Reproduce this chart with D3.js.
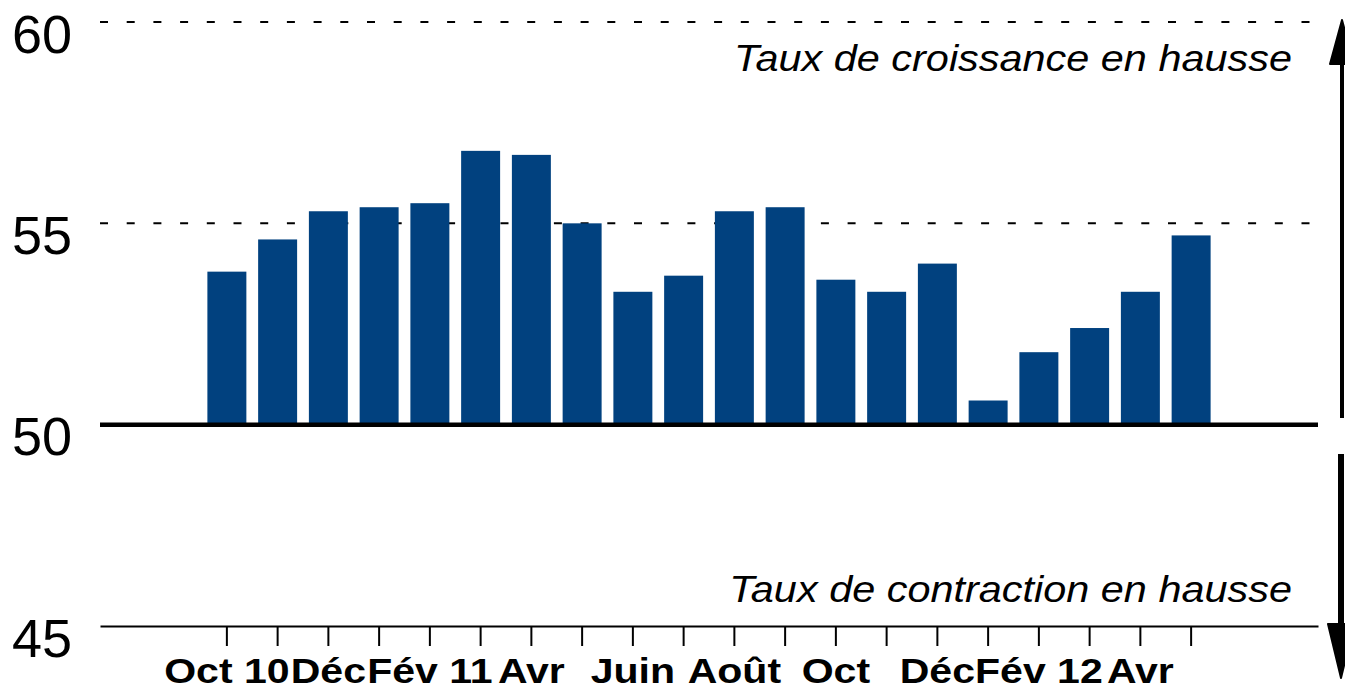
<!DOCTYPE html>
<html>
<head>
<meta charset="utf-8">
<script src="https://cdn.jsdelivr.net/npm/d3@7/dist/d3.min.js"></script>
<style>
  html, body { margin: 0; padding: 0; background: #fff; }
  svg { display: block; }
</style>
</head>
<body>
<svg id="chart" width="1345" height="690"></svg>
<script>
// ---- data ----
const months = ["2010-10","2010-11","2010-12","2011-01","2011-02","2011-03","2011-04","2011-05","2011-06","2011-07",
                "2011-08","2011-09","2011-10","2011-11","2011-12","2012-01","2012-02","2012-03","2012-04","2012-05"];
const monthLabels = ["Oct 10","","Déc","","Fév 11","","Avr","","Juin","",
                     "Août","","Oct","","Déc","","Fév 12","","Avr",""];
const values = [53.8, 54.6, 55.3, 55.4, 55.5, 56.8, 56.7, 55.0, 53.3, 53.7,
                55.3, 55.4, 53.6, 53.3, 54.0, 50.6, 51.8, 52.4, 53.3, 54.7];
const yTicks = [45, 50, 55, 60];
const dashedLevels = [55, 60];
const baseLevel = 50;
const upperNote = "Taux de croissance en hausse";
const lowerNote = "Taux de contraction en hausse";

// ---- layout ----
const svg = d3.select("#chart");
const left = 100, right = 1318;
const y = d3.scaleLinear().domain([45, 60]).range([626, 22]);
const x = d3.scaleBand().domain(months).range([left, right])
  .paddingInner(0.232).paddingOuter(2.116);
const labelOf = d3.scaleOrdinal().domain(months).range(monthLabels);

// dashed gridlines
svg.append("g").selectAll("line").data(dashedLevels).join("line")
  .attr("x1", left).attr("x2", right)
  .attr("y1", d => y(d)).attr("y2", d => y(d))
  .attr("stroke", "#000").attr("stroke-width", 2)
  .attr("stroke-dasharray", "8,18.7");

// bars
svg.append("g").selectAll("rect").data(values).join("rect")
  .attr("x", (d, i) => x(months[i]))
  .attr("width", x.bandwidth())
  .attr("y", d => y(d))
  .attr("height", d => y(baseLevel) - y(d))
  .attr("fill", "#01417f");

// base line at 50
svg.append("line")
  .attr("x1", left).attr("x2", right)
  .attr("y1", y(baseLevel)).attr("y2", y(baseLevel))
  .attr("stroke", "#000").attr("stroke-width", 4.5);

// x axis at 45
const xAxis = d3.axisBottom(x).tickSizeInner(20).tickSizeOuter(0).tickPadding(0)
  .tickFormat(d => labelOf(d));
const gx = svg.append("g").attr("transform", `translate(0,${y(45)})`).call(xAxis);
gx.select(".domain").attr("stroke", "#000").attr("stroke-width", 2);
gx.selectAll(".tick line").attr("stroke", "#000").attr("stroke-width", 2);
gx.selectAll(".tick text")
  .attr("y", 0).attr("dy", 0)
  .attr("transform", "translate(0,57) scale(1.14,1)")
  .attr("fill", "#000")
  .style("font-family", "'Liberation Sans', Arial, sans-serif")
  .style("font-weight", "bold")
  .style("font-size", "36px");

// y axis labels
const yAxis = d3.axisLeft(y).tickValues(yTicks).tickSize(0).tickPadding(28)
  .tickFormat(d3.format("d"));
const gy = svg.append("g").attr("transform", `translate(${left},0)`).call(yAxis);
gy.select(".domain").remove();
gy.selectAll(".tick text")
  .attr("dy", "0.56em")
  .attr("fill", "#000")
  .style("font-family", "'Liberation Sans', Arial, sans-serif")
  .style("font-size", "54px");

// notes
function note(txt, baseY) {
  svg.append("text")
    .attr("transform", `translate(1292,${baseY}) scale(1.12,1)`)
    .attr("text-anchor", "end")
    .style("font-family", "'Liberation Sans', Arial, sans-serif")
    .style("font-style", "italic")
    .style("font-size", "37px")
    .attr("fill", "#000")
    .text(txt);
}
note(upperNote, y(60) + 49);
note(lowerNote, y(45) - 24);

// arrows on the right
const ax = 1342;
svg.append("line").attr("x1", ax).attr("x2", ax).attr("y1", 55).attr("y2", 418)
  .attr("stroke", "#000").attr("stroke-width", 4);
svg.append("path").attr("d", `M${ax},20 L${ax - 12},64 L${ax + 12},64 Z`)
  .attr("fill", "#000").attr("stroke", "#000").attr("stroke-width", 2).attr("stroke-linejoin", "round");
svg.append("line").attr("x1", ax - 1).attr("x2", ax - 1).attr("y1", 454).attr("y2", 625)
  .attr("stroke", "#000").attr("stroke-width", 6);
svg.append("path").attr("d", `M${ax - 14},624 L${ax + 12},624 L${ax - 1},678 Z`)
  .attr("fill", "#000").attr("stroke", "#000").attr("stroke-width", 2).attr("stroke-linejoin", "round");
</script>
</body>
</html>
